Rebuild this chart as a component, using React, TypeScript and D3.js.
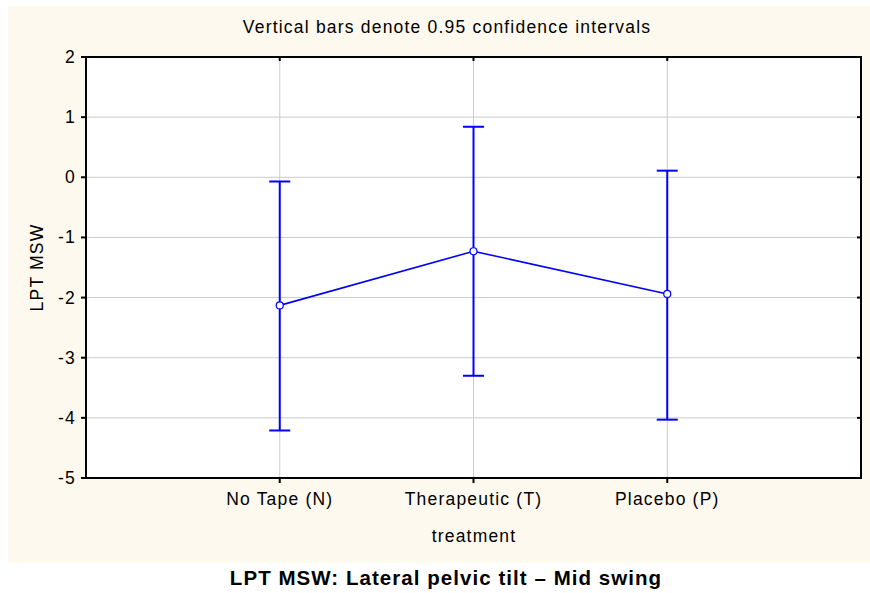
import React from "react";
import * as d3 from "d3";

const categories = ["No Tape (N)", "Therapeutic (T)", "Placebo (P)"];
const means = [-2.13, -1.23, -1.94];
const upper = [-0.07, 0.84, 0.11];
const lower = [-4.21, -3.3, -4.03];
const yTicks = [2, 1, 0, -1, -2, -3, -4, -5];

const W = 870;
const H = 593;
const M = { left: 86, top: 57, right: 861, bottom: 478 };
const FONT = "'Liberation Sans', Arial, Helvetica, sans-serif";
const FS = 17.5;
const LS = 1.2;

export default function App() {
  const x = d3.scaleLinear().domain([0, 4]).range([M.left, M.right]);
  const y = d3.scaleLinear().domain([-5, 2]).range([M.bottom, M.top]);
  const line = d3
    .line<number>()
    .x((_, i) => x(i + 1))
    .y((d) => y(d));
  const blue = "#0000ff";
  return (
    <svg
      width={W}
      height={H}
      style={{ position: "absolute", left: 0, top: 0, background: "#fff" }}
      fontFamily={FONT}
    >
      <rect x={8} y={6} width={862} height={557} fill="#fdf9ee" />
      <rect x={M.left} y={M.top} width={M.right - M.left} height={M.bottom - M.top} fill="#fff" />
      {yTicks.map((t) => (
        <line key={"gy" + t} x1={M.left} x2={M.right} y1={y(t)} y2={y(t)} stroke="#cccccc" strokeWidth={1} />
      ))}
      {categories.map((c, i) => (
        <line key={"gx" + c} x1={x(i + 1)} x2={x(i + 1)} y1={M.top} y2={M.bottom} stroke="#cccccc" strokeWidth={1} />
      ))}
      <rect
        x={M.left}
        y={M.top}
        width={M.right - M.left}
        height={M.bottom - M.top}
        fill="none"
        stroke="#000"
        strokeWidth={2}
      />
      {yTicks.map((t) => (
        <g key={"ty" + t}>
          <line x1={M.left - 5} x2={M.left} y1={y(t)} y2={y(t)} stroke="#000" strokeWidth={2} />
          <line x1={M.right} x2={M.right - 4} y1={y(t)} y2={y(t)} stroke="#000" strokeWidth={2} />
          <text x={M.left - 10} y={y(t) + 6} textAnchor="end" fontSize={FS} letterSpacing={LS} fill="#000">
            {t}
          </text>
        </g>
      ))}
      {categories.map((c, i) => (
        <g key={"tx" + c}>
          <line x1={x(i + 1)} x2={x(i + 1)} y1={M.bottom} y2={M.bottom + 5} stroke="#000" strokeWidth={2} />
          <line x1={x(i + 1)} x2={x(i + 1)} y1={M.top} y2={M.top + 4} stroke="#000" strokeWidth={2} />
          <text x={x(i + 1)} y={505} textAnchor="middle" fontSize={FS} letterSpacing={LS} fill="#000">
            {c}
          </text>
        </g>
      ))}
      {categories.map((c, i) => (
        <g key={"eb" + c} stroke={blue} strokeWidth={2}>
          <line x1={x(i + 1)} x2={x(i + 1)} y1={y(upper[i])} y2={y(lower[i])} />
          <line x1={x(i + 1) - 10.5} x2={x(i + 1) + 10.5} y1={y(upper[i])} y2={y(upper[i])} />
          <line x1={x(i + 1) - 10.5} x2={x(i + 1) + 10.5} y1={y(lower[i])} y2={y(lower[i])} />
        </g>
      ))}
      <path d={line(means) || ""} fill="none" stroke={blue} strokeWidth={1.6} />
      {means.map((m, i) => (
        <circle key={"pt" + i} cx={x(i + 1)} cy={y(m)} r={3.5} fill="#fff" stroke={blue} strokeWidth={1.2} />
      ))}
      <text x={447} y={33} textAnchor="middle" fontSize={FS} letterSpacing={LS} fill="#000">
        Vertical bars denote 0.95 confidence intervals
      </text>
      <text
        transform={`translate(43, ${(M.top + M.bottom) / 2}) rotate(-90)`}
        textAnchor="middle"
        fontSize={FS}
        letterSpacing={LS}
        fill="#000"
      >
        LPT MSW
      </text>
      <text x={474} y={542} textAnchor="middle" fontSize={FS} letterSpacing={LS} fill="#000">
        treatment
      </text>
      <text x={446} y={585} textAnchor="middle" fontSize={20.5} letterSpacing={1.05} fontWeight="bold" fill="#000">
        LPT MSW: Lateral pelvic tilt – Mid swing
      </text>
    </svg>
  );
}
